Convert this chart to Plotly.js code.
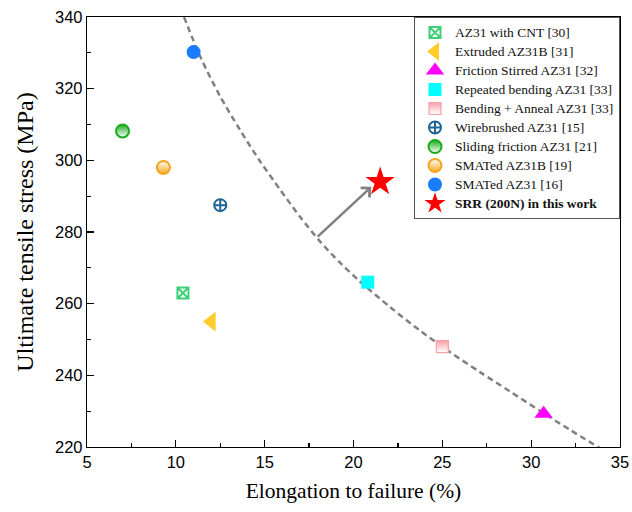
<!DOCTYPE html>
<html>
<head>
<meta charset="utf-8">
<script src="https://cdn.plot.ly/plotly-3.0.1.min.js"></script>
<style>html,body{margin:0;padding:0;background:#fff;}#chart{width:632px;height:512px;}</style>
</head>
<body>
<div id="chart"></div>
<script>
// ---- data ----
const seriesNames = [
  "AZ31 with CNT [30]",
  "Extruded AZ31B [31]",
  "Friction Stirred AZ31 [32]",
  "Repeated bending AZ31 [33]",
  "Bending + Anneal AZ31 [33]",
  "Wirebrushed AZ31 [15]",
  "Sliding friction AZ31 [21]",
  "SMATed AZ31B [19]",
  "SMATed AZ31 [16]",
  "<b>SRR (200N) in this work</b>"
];
const elongation = [10.4, 12.0, 30.7, 20.8, 25.0, 12.5, 7.0, 9.3, 11.0, 21.5];
const uts        = [263, 255, 229.3, 266, 248, 287.5, 308.2, 298, 330.2, 294];

// dashed trend curve
const curveX = [10.46, 11.36, 12.48, 13.61, 14.73, 15.86, 16.98, 18.11, 19.23, 20.36,
                22.05, 23.74, 25.43, 27.12, 28.81, 30.49, 32.18, 33.87];
const curveY = [340.0, 329.1, 318.0, 308.5, 299.8, 291.9, 284.3, 277.4, 271.5, 266.2,
                259.1, 252.5, 246.5, 240.9, 235.5, 230.1, 224.8, 219.7];

// arrow (tail -> head)
const arrowTail = [17.9, 278.3];
const arrowHead = [21.0, 292.6];

const xTicks = [5, 10, 15, 20, 25, 30, 35];
const yTicks = [220, 240, 260, 280, 300, 320, 340];

// ---- styles ----
const styles = [
  {symbol: "square-x-open", color: "#3ccf78", size: 11, lw: 2},
  {symbol: "triangle-left", color: "#ffcc2a", size: 17, lw: 0},
  {symbol: "triangle-up", color: "#ff00ff", size: 16, lw: 0},
  {symbol: "square", color: "#00ffff", size: 13, lw: 0},
  {symbol: "square", color: "#f6a0a8", size: 12, lw: 1.2, grad: {type: "vertical", color: "#ffffff"}, line: "#f6a0a8"},
  {symbol: "circle-cross-open", color: "#1e6496", size: 12, lw: 2},
  {symbol: "circle", color: "#1aab1a", size: 13, lw: 2, grad: {type: "vertical", color: "#ffffff"}, line: "#1aab1a"},
  {symbol: "circle", color: "#ffffff", size: 13, lw: 2, grad: {type: "vertical", color: "#f5a51c"}, line: "#f5a51c"},
  {symbol: "circle", color: "#1a7cff", size: 14, lw: 0},
  {symbol: "star", color: "#ff0000", size: 22, lw: 0}
];

const traces = [{
  x: curveX, y: curveY, mode: "lines", type: "scatter",
  line: {color: "#808080", width: 2.5, dash: "6px,4px", shape: "spline", smoothing: 0.8},
  showlegend: false, hoverinfo: "skip"
}];

seriesNames.forEach((name, i) => {
  const s = styles[i];
  const marker = {
    symbol: s.symbol, color: s.color, size: s.size,
    line: {color: s.line || s.color, width: s.lw}
  };
  if (s.grad) marker.gradient = s.grad;
  traces.push({
    x: [elongation[i]], y: [uts[i]],
    name: '<span style="font-size:13.5px">' + name + '</span>',
    type: "scatter", mode: "markers", marker: marker
  });
});

const serif = "Liberation Serif, Times New Roman, serif";
const sans = "Liberation Sans, Arial, sans-serif";

const layout = {
  width: 632, height: 512,
  margin: {l: 87, r: 12, t: 17, b: 65},
  paper_bgcolor: "#ffffff", plot_bgcolor: "#ffffff",
  showlegend: true,
  legend: {
    x: 1, xanchor: "right", y: 1, yanchor: "top",
    bgcolor: "#ffffff", bordercolor: "#555555", borderwidth: 1,
    font: {family: serif, size: 11, color: "#111"},
    tracegroupgap: 0, itemwidth: 30
  },
  xaxis: {
    range: [5, 35], tickvals: xTicks, ticktext: xTicks.map(String),
    showgrid: false, zeroline: false, showline: true, linecolor: "#000", linewidth: 1.2,
    mirror: true, ticks: "inside", ticklen: 7, tickwidth: 1.2, tickcolor: "#000",
    minor: {dtick: 2.5, ticks: "inside", ticklen: 4, tickwidth: 1.2, tickcolor: "#000", showgrid: false},
    tickfont: {family: sans, size: 16.5, color: "#000"},
    title: {text: "Elongation to failure (%)", font: {family: serif, size: 21.5, color: "#000"}, standoff: 13}
  },
  yaxis: {
    range: [220, 340], tickvals: yTicks, ticktext: yTicks.map(String),
    showgrid: false, zeroline: false, showline: true, linecolor: "#000", linewidth: 1.2,
    mirror: true, ticks: "inside", ticklen: 7, tickwidth: 1.2, tickcolor: "#000",
    minor: {dtick: 10, ticks: "inside", ticklen: 4, tickwidth: 1.2, tickcolor: "#000", showgrid: false},
    tickfont: {family: sans, size: 16.5, color: "#000"},
    title: {text: "Ultimate tensile stress (MPa)", font: {family: serif, size: 24, color: "#000"}, standoff: 14}
  },
  annotations: [{
    x: arrowHead[0], y: arrowHead[1], ax: arrowTail[0], ay: arrowTail[1],
    xref: "x", yref: "y", axref: "x", ayref: "y",
    showarrow: true, arrowhead: 4, arrowsize: 1, arrowwidth: 2.5, arrowcolor: "#808080", text: ""
  }]
};

Plotly.newPlot("chart", traces, layout, {displayModeBar: false, staticPlot: true});
</script>
</body>
</html>
